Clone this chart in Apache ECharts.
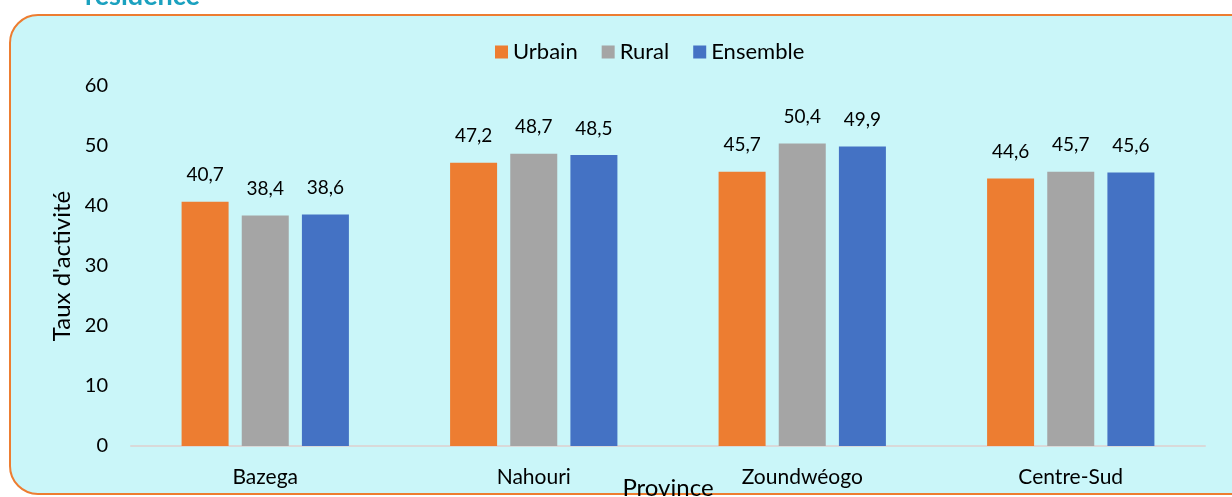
<!DOCTYPE html>
<html>
<head>
<meta charset="utf-8">
<script src="https://cdn.jsdelivr.net/npm/echarts@6/dist/echarts.min.js"></script>
<style>
  html, body { margin: 0; padding: 0; background: #ffffff; }
  #chart { width: 1232px; height: 497px; }
</style>
</head>
<body>
<div id="chart"></div>
<script>
// provinces and activity rates by residence
const provinces = ['Bazega', 'Nahouri', 'Zoundwéogo', 'Centre-Sud'];
const urbain = [40.7, 47.2, 45.7, 44.6];
const rural = [38.4, 48.7, 50.4, 45.7];
const ensemble = [38.6, 48.5, 49.9, 45.6];

const fontFam = 'Lato, "Open Sans", sans-serif';

let chart = echarts.init(document.getElementById('chart'));

function barSeries(name, data, color) {
  return {
    name: name,
    type: 'bar',
    data: data,
    barWidth: 47,
    barGap: '28%',
    itemStyle: { color: color },
    label: {
      show: true,
      position: 'top',
      distance: 17,
      color: '#000',
      fontSize: 19,
      fontFamily: fontFam,
      formatter: (p) => String(p.value).replace('.', ',')
    }
  };
}

let option = {
  backgroundColor: '#ffffff',
  graphic: [
    {
      type: 'rect',
      z: -10,
      shape: { x: 10, y: 15, width: 1240, height: 479, r: [28, 14, 14, 28] },
      style: { fill: '#CAF6F9', stroke: '#ED7D31', lineWidth: 2 }
    },
    {
      type: 'text',
      z: -5,
      style: {
        x: 85, y: 10,
        text: 'résidence',
        verticalAlign: 'bottom',
        fill: '#1BA1BF',
        font: 'bold 27px ' + fontFam
      }
    }
  ],
  legend: {
    top: 36,
    left: 490,
    itemWidth: 13,
    itemHeight: 13,
    itemGap: 24,
    icon: 'rect',
    textStyle: { fontSize: 22, fontFamily: fontFam, color: '#000' },
    data: ['Urbain', 'Rural', 'Ensemble']
  },
  grid: {
    left: 131,
    right: 27,
    top: 86,
    bottom: 51,
    containLabel: false,
    outerBoundsMode: 'none'
  },
  xAxis: {
    type: 'category',
    data: provinces,
    name: 'Province',
    nameLocation: 'middle',
    nameGap: 30,
    nameMoveOverlap: false,
    nameTextStyle: { fontSize: 24, fontFamily: fontFam, color: '#000' },
    axisLine: { lineStyle: { color: '#D9D9D9', width: 2 } },
    axisTick: { show: false },
    axisLabel: { fontSize: 21, fontFamily: fontFam, color: '#000', margin: 21 }
  },
  yAxis: {
    type: 'value',
    min: 0,
    max: 60,
    interval: 10,
    name: "Taux d'activité",
    nameLocation: 'middle',
    nameGap: 57,
    nameMoveOverlap: false,
    nameTextStyle: { fontSize: 24, fontFamily: fontFam, color: '#000' },
    splitLine: { show: false },
    axisLine: { show: false },
    axisTick: { show: false },
    axisLabel: { fontSize: 20, fontFamily: fontFam, color: '#000', margin: 23 }
  },
  series: [
    barSeries('Urbain', urbain, '#ED7D31'),
    barSeries('Rural', rural, '#A5A5A5'),
    barSeries('Ensemble', ensemble, '#4472C4')
  ]
};

chart.setOption(option);
</script>
</body>
</html>
